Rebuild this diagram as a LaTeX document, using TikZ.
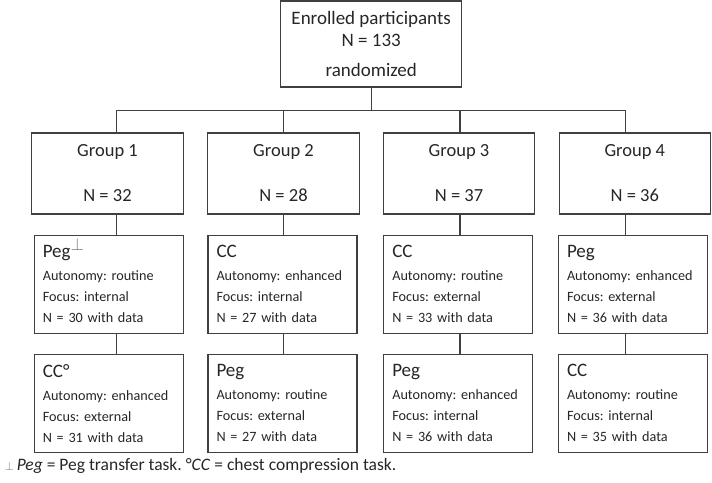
\documentclass[tikz,border=0pt]{standalone}
\usepackage{fontspec}
\setmainfont{Carlito}
\usepackage{tikz}
\usetikzlibrary{positioning}

\newcommand{\tasktitle}[1]{{\fontsize{19}{22}\selectfont #1}\\[2pt]}

\begin{document}
\frenchspacing
\begin{tikzpicture}[
    x=1pt, y=-1pt,
    node distance=20pt,
    every node/.style={font=\fontsize{18.5}{22}\selectfont, text=black!85},
    topnode/.style={
        rectangle,
        draw=black!75,
        line width=1.1pt,
        minimum width=181pt,
        minimum height=86pt,
        inner sep=0pt,
        align=center
    },
    groupnode/.style={
        rectangle,
        draw=black!75,
        line width=1.1pt,
        minimum width=151.5pt,
        minimum height=81pt,
        inner sep=0pt,
        align=center
    },
    tasknode/.style={
        rectangle,
        draw=black!75,
        line width=1.1pt,
        text width=132pt,
        inner xsep=8.5pt,
        inner ysep=0pt,
        minimum height=98pt,
        align=left,
        font=\fontsize{14.2}{21}\selectfont
    },
    link/.style={draw=black!75, line width=1.1pt}
]

\useasboundingbox (0,0) rectangle (712,482);

\node[topnode, font=\fontsize{19}{22.4}\selectfont] (enrolled) at (371.2,44)
    {Enrolled participants\\N = 133\\[8pt]randomized};

\node[groupnode] (group1) at (107.5,173.5) {Group 1\\[23pt]N = 32};
\node[groupnode] (group2) at (283.5,173.5) {Group 2\\[23pt]N = 28};
\node[groupnode] (group3) at (459,173.5) {Group 3\\[23pt]N = 37};
\node[groupnode] (group4) at (634.8,173.5) {Group 4\\[23pt]N = 36};

\node[tasknode, below=of group1, xshift=1.3pt] (task1a)
    {\tasktitle{Peg\smash{\raisebox{7pt}{\color{black!55}$\perp$}}}Autonomy: routine\\Focus: internal\\N = 30 with data};
\node[tasknode, below=of task1a] (task1b)
    {\tasktitle{CC°}Autonomy: enhanced\\Focus: external\\N = 31 with data};
\node[tasknode, below=of group2, xshift=-1pt] (task2a)
    {\tasktitle{CC}Autonomy: enhanced\\Focus: internal\\N = 27 with data};
\node[tasknode, below=of task2a] (task2b)
    {\tasktitle{Peg}Autonomy: routine\\Focus: external\\N = 27 with data};
\node[tasknode, below=of group3, xshift=-0.7pt] (task3a)
    {\tasktitle{CC}Autonomy: routine\\Focus: external\\N = 33 with data};
\node[tasknode, below=of task3a] (task3b)
    {\tasktitle{Peg}Autonomy: enhanced\\Focus: internal\\N = 36 with data};
\node[tasknode, below=of group4, xshift=-1.8pt] (task4a)
    {\tasktitle{Peg}Autonomy: enhanced\\Focus: external\\N = 36 with data};
\node[tasknode, below=of task4a] (task4b)
    {\tasktitle{CC}Autonomy: routine\\Focus: internal\\N = 35 with data};

\node[anchor=base west, font=\fontsize{17.5}{21}\selectfont] (note) at (1,470)
    {{\color{black!55}$\scriptstyle\perp$}\,\textit{Peg} = Peg transfer task. °\textit{CC} = chest compression task.};

% randomisation tree
\draw[link] (enrolled.south) -- ++(0,23) -| ([xshift=9pt]group1.north);
\draw[link] (enrolled.south) -- ++(0,23) -| (group2.north);
\draw[link] (enrolled.south) -- ++(0,23) -| ([xshift=1pt]group3.north);
\draw[link] (enrolled.south) -- ++(0,23) -| ([xshift=-9.5pt]group4.north);

% group to tasks
\draw[link] ([xshift=9pt]group1.south) -- ([xshift=9pt]group1.south |- task1a.north);
\draw[link] ([xshift=9pt]group1.south |- task1a.south) -- ([xshift=9pt]group1.south |- task1b.north);
\draw[link] (group2.south) -- (group2.south |- task2a.north);
\draw[link] (group2.south |- task2a.south) -- (group2.south |- task2b.north);
\draw[link] ([xshift=1pt]group3.south) -- ([xshift=1pt]group3.south |- task3a.north);
\draw[link] ([xshift=1pt]group3.south |- task3a.south) -- ([xshift=1pt]group3.south |- task3b.north);
\draw[link] ([xshift=-9.5pt]group4.south) -- ([xshift=-9.5pt]group4.south |- task4a.north);
\draw[link] ([xshift=-9.5pt]group4.south |- task4a.south) -- ([xshift=-9.5pt]group4.south |- task4b.north);

\end{tikzpicture}
\end{document}
